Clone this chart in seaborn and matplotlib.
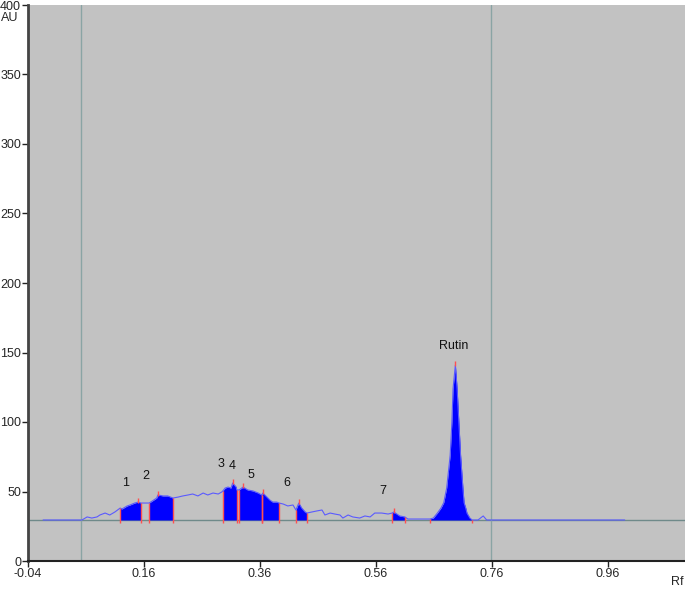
import numpy as np
import matplotlib
matplotlib.use("Agg")
import matplotlib.pyplot as plt
import seaborn as sns

# === densitogram trace (Rf, AU) ===
rf = [-0.014, 0.053, 0.062, 0.070, 0.079, 0.084, 0.093, 0.101, 0.110, 0.119,
      0.122, 0.131, 0.136, 0.144, 0.150, 0.155, 0.162, 0.169, 0.182, 0.184,
      0.193, 0.201, 0.210, 0.219, 0.227, 0.236, 0.244, 0.253, 0.262, 0.270,
      0.279, 0.288, 0.294, 0.296, 0.300, 0.305, 0.310, 0.313, 0.319, 0.320,
      0.324, 0.331, 0.339, 0.348, 0.357, 0.363, 0.365, 0.372, 0.377, 0.382,
      0.389, 0.393, 0.400, 0.408, 0.417, 0.422, 0.427, 0.432, 0.438, 0.441,
      0.450, 0.458, 0.467, 0.472, 0.481, 0.489, 0.498, 0.503, 0.512, 0.520,
      0.532, 0.541, 0.550, 0.558, 0.567, 0.570, 0.581, 0.588, 0.591, 0.596,
      0.601, 0.610, 0.615, 0.650, 0.653, 0.659, 0.666, 0.672, 0.677, 0.682,
      0.688, 0.691, 0.693, 0.697, 0.700, 0.703, 0.706, 0.710, 0.712, 0.715,
      0.717, 0.722, 0.726, 0.736, 0.745, 0.751, 0.758, 0.989]
au = [29.5, 29.5, 31.7, 30.9, 31.7, 33.1, 34.5, 33.1, 35.3, 38.1,
      37.4, 39.6, 40.3, 41.7, 42.4, 41.7, 41.7, 41.7, 45.3, 47.5,
      46.8, 46.8, 45.3, 46.0, 46.8, 47.5, 48.2, 46.8, 48.9, 47.5,
      48.9, 48.2, 49.6, 50.4, 52.5, 53.2, 52.5, 56.1, 53.2, 51.1,
      51.1, 53.2, 51.1, 50.4, 48.9, 47.5, 48.9, 46.0, 43.9, 42.4,
      42.4, 41.7, 41.0, 39.6, 40.3, 36.7, 41.7, 38.1, 35.3, 34.5,
      35.3, 36.0, 36.7, 33.1, 34.5, 33.8, 33.1, 30.9, 33.1, 31.7,
      30.9, 32.4, 31.7, 34.5, 34.5, 34.5, 33.8, 34.5, 35.3, 33.8,
      32.4, 31.7, 30.2, 30.2, 30.2, 30.9, 34.5, 38.0, 42.0, 52.5,
      76.0, 100.0, 124.0, 141.0, 124.0, 100.0, 76.0, 52.5, 42.0, 38.0,
      34.5, 30.9, 29.5, 29.5, 32.4, 29.5, 29.5, 29.5]

baseline = 29.5

# integrated peak windows (start, end) and apex positions
peak_start = [0.119, 0.169, 0.296, 0.324, 0.363, 0.422, 0.588, 0.653]
peak_end = [0.155, 0.210, 0.320, 0.363, 0.393, 0.441, 0.610, 0.726]
peak_apex = [0.150, 0.184, 0.313, 0.331, 0.365, 0.427, 0.591, 0.697]

# peak labels
label_text = ["1", "2", "3", "4", "5", "6", "7", "Rutin"]
label_x = [0.129, 0.163, 0.293, 0.312, 0.344, 0.407, 0.572, 0.694]
label_y = [56, 61, 70, 68, 62, 56, 50, 154.5]

# start / front lines
marker_lines = [0.051, 0.758]

sns.set_style("white")
plt.rcParams["font.family"] = ["Liberation Sans", "DejaVu Sans"]

fig = plt.figure(figsize=(6.85, 5.89), dpi=100)
ax = fig.add_axes([28 / 685, 28 / 589, 657 / 685, 556 / 589])
ax.set_facecolor("#c2c2c2")

rf_arr = np.array(rf)
au_arr = np.array(au)

# baseline + marker lines
ax.axhline(baseline, color="#6f8a8a", lw=1.0, zorder=1)
for m in marker_lines:
    ax.axvline(m, color="#8aa4a4", lw=1.0, zorder=1)

# filled peaks
for a, b in zip(peak_start, peak_end):
    mask = (rf_arr >= a - 1e-9) & (rf_arr <= b + 1e-9)
    ax.fill_between(rf_arr[mask], baseline, au_arr[mask], color="#0000ff",
                    lw=0, zorder=2)

# trace
sns.lineplot(x=rf, y=au, ax=ax, color="#5a5aff", lw=0.8, sort=False,
             estimator=None, zorder=3)

# red integration markers
for a, b in zip(peak_start, peak_end):
    for edge in (a, b):
        top = np.interp(edge, rf_arr, au_arr)
        ax.vlines(edge, baseline - 2.5, top, color="#ff5050", lw=1.0, zorder=4)
for p in peak_apex:
    top = np.interp(p, rf_arr, au_arr)
    ax.vlines(p, top - 1, top + 3, color="#ff5050", lw=1.0, zorder=4)

for t, x, y in zip(label_text, label_x, label_y):
    ax.text(x, y, t, fontsize=9, color="#111111", ha="center", va="center")

ax.set_xlim(-0.04, 1.093)
ax.set_ylim(0, 400)
ax.set_xticks([-0.04, 0.16, 0.36, 0.56, 0.76, 0.96])
ax.set_xticklabels(["-0.04", "0.16", "0.36", "0.56", "0.76", "0.96"])
ax.set_yticks(range(0, 401, 50))
ax.tick_params(axis="both", labelsize=9, length=4, width=1, color="#222222",
               direction="out", pad=1, left=True, bottom=True)
for s in ["top", "right"]:
    ax.spines[s].set_visible(False)
ax.spines["left"].set_color("#444444")
ax.spines["left"].set_linewidth(2)
ax.spines["bottom"].set_color("#222222")
ax.spines["bottom"].set_linewidth(1.5)
ax.set_xlabel("")
ax.set_ylabel("")

fig.text(1 / 685, 1 - 18 / 589, "AU", fontsize=9, ha="left", va="center")
fig.text(684 / 685, 1 - 582 / 589, "Rf", fontsize=9, ha="right", va="center")

fig.savefig("out.png", dpi=100)
